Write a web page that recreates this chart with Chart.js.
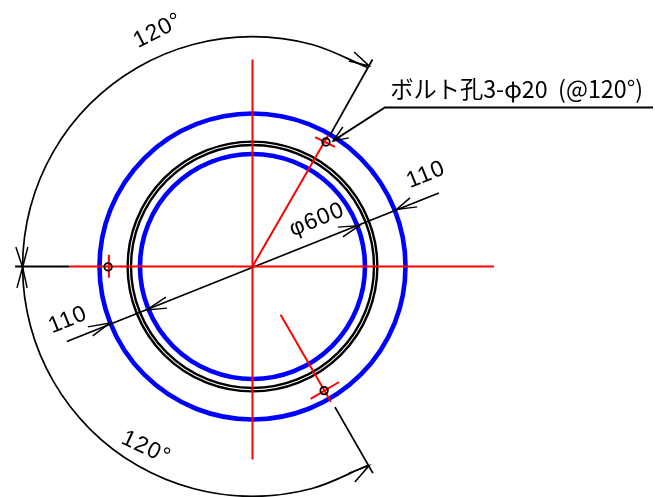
<!DOCTYPE html>
<html>
<head>
<meta charset="utf-8">
<title>ボルト孔</title>
<script src="https://cdn.jsdelivr.net/npm/chart.js@4"></script>
<style>
  html, body { margin: 0; padding: 0; background: #fff; }
  canvas { display: block; }
</style>
</head>
<body>
<canvas id="drawing" width="655" height="497"></canvas>
<script>
// All values are in drawing units (mm), origin at the flange centre

// circle radii
const blueRadii = [300, 408];
const blackRadii = [333, 324];
const holeRadius = 10;
const holeCentres = [[-385, -1], [191, -331], [196, 332]];

// centre lines
const redLines = [
    [[0, 552], [0, -515]],
    [[-489, 0], [644, 0]],
    [[0, 0], [202, 350]],
    [[167, 345], [220, 319]],
    [[75, -129], [209, -361]],
    [[155, -353], [231, -308]],
    [[-383, 31], [-383, -30]]
];

// extension lines, dimension lines, leader
const blackLines = [
    [[-633, 0], [-489, 0]],
    [[320, 552], [207, 351]],
    [[220, -375], [321, -551]],
    [[1068, 424], [353, 424], [215, 335]],
    [[-495, -200], [497, 196]]
];

// arrow heads: barb, tip, barb
const arrows = [
    [[271, 572], [311, 535], [257, 548]],
    [[241, 372], [215, 335], [257, 343]],
    [[228, 105], [285, 109], [241, 79]],
    [[420, 183], [384, 152], [439, 159]],
    [[-231, -82], [-282, -116], [-228, -111]],
    [[-439, -161], [-380, -151], [-426, -185]],
    [[257, -551], [311, -531], [273, -575]],
    [[-631, 52], [-613, -2], [-599, 52]],
    [[-628, -57], [-613, -2], [-601, -57]]
];

// 240 degree dimension arc, read every 15 degrees
const dimensionArc = [
    [306.5, 530.9], [158.7, 592.1], [0, 613], [-158.7, 592.1], [-306.5, 530.9],
    [-433.5, 433.5], [-530.9, 306.5], [-592.1, 158.7], [-613, 0], [-592.1, -158.7],
    [-530.9, -306.5], [-433.5, -433.5], [-306.5, -530.9], [-158.7, -592.1], [0, -613],
    [158.7, -592.1], [306.5, -530.9]
];

// texts
const labelTexts = ['120°', '120°', 'φ600', '110', '110'];
const labelPlaces = [[-252, 628], [-284, -484], [172, 124], [463, 244], [-492, -143]];
const labelAngles = [-27, 25, -22, -22, -22];
const noteText = 'ボルト孔3-φ20  (@120°)';
const notePlace = [367, 449];

const toPoints = pts => pts.map(p => ({ x: p[0], y: p[1] }));

const lineSet = (pts, color, width, tension) => ({
    data: toPoints(pts),
    showLine: true,
    borderColor: color,
    borderWidth: width,
    pointRadius: 0,
    tension: tension || 0
});

// a circle is one point whose radius follows the x scale
const circleSet = (centre, r, color, width) => ({
    data: toPoints([centre]),
    pointRadius: c => {
        const x = c.chart.scales.x;
        return x.getPixelForValue(r) - x.getPixelForValue(0);
    },
    pointBorderColor: color,
    pointBorderWidth: width,
    pointBackgroundColor: 'transparent'
});

const datasets = [
    ...holeCentres.map(c => circleSet(c, holeRadius, '#000', 1.8)),
    ...redLines.map(l => lineSet(l, '#ff0000', 2)),
    ...blackLines.map(l => lineSet(l, '#000', 1.8)),
    ...arrows.map(a => lineSet(a, '#000', 1.5)),
    lineSet(dimensionArc, '#000', 1.7, 0.34),
    ...blackRadii.map(r => circleSet([0, 0], r, '#000', 2.4)),
    ...blueRadii.map(r => circleSet([0, 0], r, '#0000ff', 4.6))
];

const drawingText = {
    id: 'drawingText',
    afterDatasetsDraw(chart) {
        const { ctx, scales } = chart;
        ctx.save();
        ctx.fillStyle = '#000';
        ctx.textAlign = 'center';
        ctx.textBaseline = 'middle';
        ctx.font = '23px "Liberation Sans"';
        ctx.letterSpacing = '1px';
        labelTexts.forEach((t, i) => {
            ctx.save();
            ctx.translate(scales.x.getPixelForValue(labelPlaces[i][0]), scales.y.getPixelForValue(labelPlaces[i][1]));
            ctx.rotate(labelAngles[i] * Math.PI / 180);
            ctx.fillText(t, 0, 0);
            ctx.restore();
        });
        ctx.textAlign = 'left';
        ctx.textBaseline = 'alphabetic';
        ctx.letterSpacing = '0px';
        ctx.font = '24px "Noto Sans CJK JP"';
        ctx.fillText(noteText, scales.x.getPixelForValue(notePlace[0]), scales.y.getPixelForValue(notePlace[1]), 253);
        ctx.restore();
    }
};

const ctx = document.getElementById('drawing').getContext('2d');
const drawing = new Chart(ctx, {
    type: 'scatter',
    data: { datasets: datasets },
    plugins: [drawingText],
    options: {
        responsive: false,
        animation: false,
        clip: false,
        layout: { padding: 0 },
        plugins: {
            legend: { display: false },
            tooltip: { enabled: false }
        },
        scales: {
            x: { display: false, min: -673.3, max: 1073.3 },
            y: { display: false, min: -614.7, max: 710.7 }
        }
    }
});
</script>
</body>
</html>
